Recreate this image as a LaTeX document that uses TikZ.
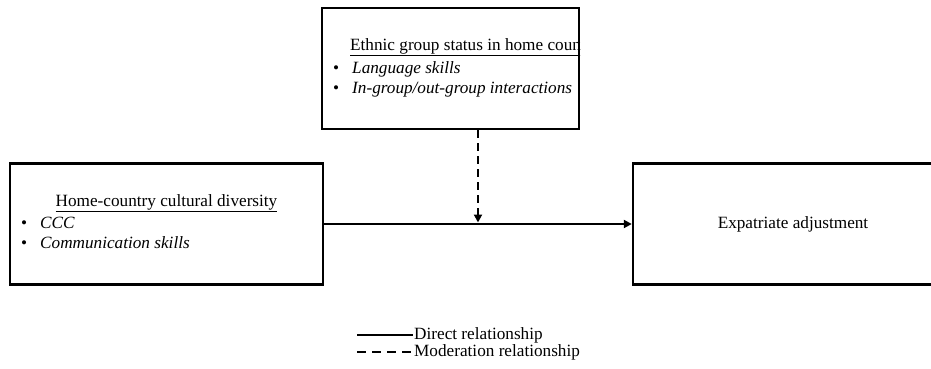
\documentclass[tikz,border=0pt]{standalone}
\usepackage{fontspec}
\setmainfont{Liberation Serif}
\usetikzlibrary{arrows.meta}
\newcommand{\bitem}[1]{\makebox[19pt][l]{\textbullet}\textit{#1}}

\begin{document}
\begin{tikzpicture}[x=1pt,y=-1pt,
    every node/.style={font=\fontsize{17.2}{20}\selectfont},
    box/.style={draw,line width=2.4pt,minimum height=121pt,inner sep=0pt},
    link/.style={line width=2pt,-{Triangle[length=8pt,width=8pt]}},
    modlink/.style={link,dash pattern=on 8pt off 5pt}]
    \useasboundingbox (0,0) rectangle (931,369);
    % Boxes
    \node[box,minimum width=257pt] (ethnic) at (450.5,68.5) {};
    \node[box,minimum width=313pt] (diversity) at (166.5,224) {};
    \node[box,minimum width=320pt] (adjust) at (793,224) {Expatriate adjustment};
    % Box texts
    \begin{scope}
      \clip (ethnic.south west) rectangle (ethnic.north east);
      \node[anchor=west,inner sep=0pt] (ethnichead) at (350,47)
          {\underline{Ethnic group status in home country}};
    \end{scope}
    \node[anchor=west,align=left,inner sep=0pt] (ethnicitems) at (333,79)
        {\bitem{Language skills}\\ \bitem{In-group/out-group interactions}};
    \node (divhead) at (166.5,203) {\underline{Home-country cultural diversity}};
    \node[anchor=west,align=left,inner sep=0pt] (divitems) at (21,233)
        {\bitem{CCC}\\ \bitem{Communication skills}};
    % Relationships
    \path (diversity.east) -- (adjust.west) coordinate[midway] (mid);
    \draw[link] (diversity.east) -- (adjust.west);
    \draw[modlink,shorten >=1.5pt] (ethnic.south -| mid) -- (mid);
    % Legend
    \coordinate (solidA) at (357,335);
    \coordinate (solidB) at (413,335);
    \coordinate (dashA) at (357,352);
    \coordinate (dashB) at (413,352);
    \draw[line width=1.5pt] (solidA) -- (solidB);
    \draw[line width=1.5pt,dash pattern=on 9pt off 6pt] (dashA) -- (dashB);
    \node[anchor=west,inner sep=1pt] (directlab) at (solidB) {Direct relationship};
    \node[anchor=west,inner sep=1pt] (modlab) at (dashB) {Moderation relationship};
\end{tikzpicture}
\end{document}
